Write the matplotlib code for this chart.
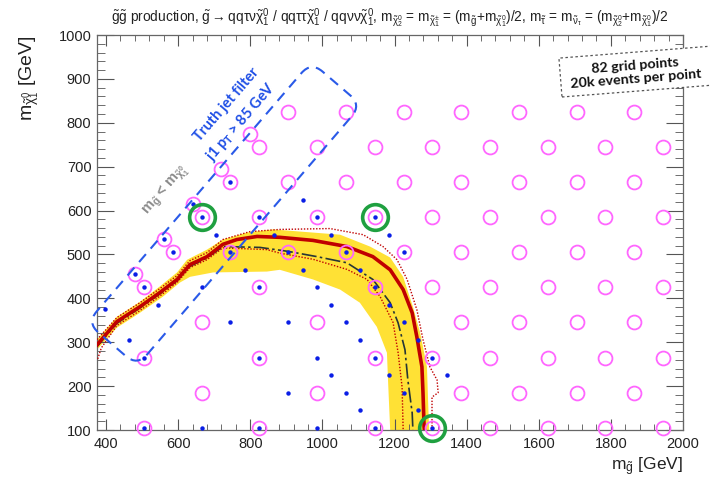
import numpy as np
import matplotlib
matplotlib.use("Agg")
import matplotlib.pyplot as plt
from matplotlib.patches import FancyBboxPatch, Rectangle
from matplotlib.transforms import Affine2D, IdentityTransform
from matplotlib.ticker import MultipleLocator

plt.rcParams['font.family'] = ['Liberation Sans', 'DejaVu Sans']
plt.rcParams['mathtext.fontset'] = 'custom'
plt.rcParams['mathtext.rm'] = 'Liberation Sans'
plt.rcParams['mathtext.it'] = 'Liberation Sans:italic'
plt.rcParams['mathtext.bf'] = 'Liberation Sans:bold'
plt.rcParams['mathtext.default'] = 'regular'

# ---------------- data ----------------
# magenta grid points (m_gluino, m_LSP)
grid_x = [905, 1065, 1225, 1385, 1545, 1705, 1865,
          825, 985, 1145, 1305, 1465, 1625, 1785, 1945,
          745, 905, 1065, 1225, 1385, 1545, 1705, 1865,
          665, 825, 985, 1145, 1305, 1465, 1625, 1785, 1945,
          585, 745, 905, 1065, 1225, 1385, 1545, 1705, 1865,
          505, 825, 1145, 1305, 1465, 1625, 1785, 1945,
          665, 985, 1385, 1545, 1705, 1865,
          505, 825, 1145, 1305, 1465, 1625, 1785, 1945,
          665, 985, 1385, 1545, 1705, 1865,
          505, 825, 1145, 1305, 1465, 1625, 1785, 1945,
          480, 560, 640, 720, 800]
grid_y = [825] * 7 + [745] * 8 + [665] * 8 + [585] * 9 + [505] * 9 + [425] * 8 + \
         [345] * 6 + [265] * 8 + [185] * 6 + [105] * 8 + [455, 535, 615, 695, 775]

# blue dots (points with generated samples)
dot_x = [745, 945,
         665, 825, 985, 1145,
         705, 865, 1025, 1185,
         585, 745, 905, 1065, 1225,
         785, 945, 1105,
         480, 560, 640,
         505, 665, 825, 985, 1145,
         545, 1025, 1185, 397,
         745, 905, 1065, 1225,
         465, 1105, 1265,
         505, 825, 985, 1145, 1305,
         1025, 1185, 1345,
         905, 1065, 1225,
         1105, 1265,
         505, 665, 825, 985, 1145, 1305]
dot_y = [665, 625,
         585, 585, 585, 585,
         545, 545, 545, 545,
         505, 505, 505, 505, 505,
         465, 465, 465,
         455, 535, 615,
         425, 425, 425, 425, 425,
         385, 385, 385, 376,
         345, 345, 345, 345,
         305, 305, 305,
         265, 265, 265, 265, 265,
         225, 225, 225,
         185, 185, 185,
         145, 145,
         105, 105, 105, 105, 105, 105]

# highlighted points
green_x = [665, 1145, 1305]
green_y = [585, 585, 105]

# observed limit
obs_x = [375, 430, 494, 549, 597, 633, 680, 724, 763, 819, 882, 974, 1068, 1140,
         1188, 1224, 1249, 1262, 1276, 1279, 1282, 1283]
obs_y = [294, 347, 381, 413, 443, 477, 495, 523, 534, 541, 539, 532, 518, 495,
         465, 420, 367, 312, 244, 185, 107, 100]

# observed +-1 sigma theory
obs_up_x = [375, 430, 494, 549, 597, 633, 680, 724, 799, 882, 1021, 1113, 1168,
            1207, 1235, 1262, 1279, 1298, 1318, 1321, 1304, 1304]
obs_up_y = [306, 356, 390, 422, 452, 486, 504, 534, 552, 557, 559, 545, 518,
            488, 443, 374, 306, 244, 214, 185, 175, 100]
obs_dn_x = [377, 387, 430, 494, 549, 597, 633, 680, 724, 846, 882, 974, 1068,
            1124, 1160, 1196, 1210, 1221, 1224]
obs_dn_y = [262, 287, 338, 372, 405, 436, 470, 488, 515, 511, 503, 489, 466,
            443, 404, 345, 276, 198, 100]

# expected limit
exp_x = [375, 430, 494, 549, 597, 633, 680, 724, 827, 905, 985, 1068, 1140,
         1188, 1210, 1229, 1237, 1249, 1251]
exp_y = [290, 343, 378, 410, 440, 473, 492, 518, 516, 507, 495, 481, 443,
         390, 344, 283, 214, 139, 100]

# expected +-1 sigma band
band_up_x = [375, 430, 494, 549, 597, 625, 680, 724, 791, 863, 1049, 1132, 1188,
             1224, 1251, 1271, 1290, 1293, 1296]
band_up_y = [306, 358, 392, 427, 459, 488, 511, 534, 550, 557, 545, 518, 493,
             449, 381, 322, 244, 169, 100]
band_dn_x = [375, 430, 494, 558, 605, 633, 697, 846, 882, 974, 1049, 1104, 1151,
             1179, 1182, 1188]
band_dn_y = [283, 333, 367, 404, 436, 449, 459, 461, 465, 443, 420, 390, 335,
             276, 214, 100]

# truth-jet-filter region (corners, GeV)
filt_x = [350, 971, 1104, 486]
filt_y = [347, 941, 840, 242]

x_ticks = [400, 600, 800, 1000, 1200, 1400, 1600, 1800, 2000]
y_ticks = [100, 200, 300, 400, 500, 600, 700, 800, 900, 1000]

# ---------------- figure ----------------
fig = plt.figure(figsize=(7.10, 4.79), dpi=100)
ax = fig.add_axes([97 / 710, 49 / 479, 586 / 710, 395 / 479])
ax.set_xlim(375, 2000)
ax.set_ylim(100, 1000)

# band
poly_x = band_up_x + band_dn_x[::-1]
poly_y = band_up_y + band_dn_y[::-1]
ax.fill(poly_x, poly_y, color='#ffe135', lw=0, zorder=1)

ax.plot(exp_x, exp_y, color='#263636', lw=1.2, ls=(0, (9, 2, 1.5, 2)), zorder=3)
ax.plot(obs_x, obs_y, color='#c00000', lw=2.6, zorder=4)
ax.plot(obs_up_x, obs_up_y, color='#c00000', lw=1.0, ls=(0, (1, 1.2)), zorder=4)
ax.plot(obs_dn_x, obs_dn_y, color='#c00000', lw=1.0, ls=(0, (1, 1.2)), zorder=4)

ax.plot(grid_x, grid_y, ls='none', marker='o', ms=10, mfc='none', mec='#ff66ff',
        mew=1.3, zorder=5, clip_on=False)
ax.plot(dot_x, dot_y, ls='none', marker='o', ms=3.2, mfc='#0a1ee6', mec='#0a1ee6',
        mew=0, zorder=6)
ax.plot(green_x, green_y, ls='none', marker='o', ms=18.5, mfc='none', mec='#1fa040',
        mew=2.6, zorder=7, clip_on=False)

# axes styling
ax.xaxis.set_minor_locator(MultipleLocator(40))
ax.yaxis.set_minor_locator(MultipleLocator(20))
ax.set_xticks(x_ticks)
ax.set_yticks(y_ticks)
ax.tick_params(axis='both', which='both', direction='in', top=True, right=True,
               colors='#555555', labelcolor='#222222', labelsize=10.5)
ax.tick_params(axis='x', which='major', length=8, pad=5)
ax.tick_params(axis='x', which='minor', length=4)
ax.tick_params(axis='y', which='major', length=12, pad=4)
ax.tick_params(axis='y', which='minor', length=6)
for s in ax.spines.values():
    s.set_color('#666666')
    s.set_linewidth(0.9)

ax.set_xlabel(r'm$_{\tilde{g}}$ [GeV]', fontsize=12.5, color='#222222')
ax.xaxis.set_label_coords(1.0, -0.065)
ax.xaxis.label.set_horizontalalignment('right')
ax.set_ylabel(r'm$_{\tilde{\chi}^{0}_{1}}$ [GeV]', fontsize=14, color='#222222')
ax.yaxis.set_label_coords(-0.095, 1.0)
ax.yaxis.label.set_horizontalalignment('right')

title = (r'$\tilde{g}\tilde{g}$ production, $\tilde{g}\rightarrow qq\tau\nu\tilde{\chi}^{0}_{1}$'
         r' / $qq\tau\tau\tilde{\chi}^{0}_{1}$ / $qq\nu\nu\tilde{\chi}^{0}_{1}$, '
         r'm$_{\tilde{\chi}^{0}_{2}}$ = m$_{\tilde{\chi}^{\pm}_{1}}$ = (m$_{\tilde{g}}$+m$_{\tilde{\chi}^{0}_{1}}$)/2, '
         r'm$_{\tilde{\tau}}$ = m$_{\tilde{\nu}_{\tau}}$ = (m$_{\tilde{\chi}^{0}_{2}}$+m$_{\tilde{\chi}^{0}_{1}}$)/2')
fig.text(0.549, 0.962, title, fontsize=9.9, ha='center', va='center', color='#222222')

# filter region: rounded, rotated rectangle
fig.canvas.draw()
pts = ax.transData.transform(np.column_stack([filt_x, filt_y]))
A, B, C, D = pts
cx, cy = pts.mean(axis=0)
L = (np.linalg.norm(B - A) + np.linalg.norm(C - D)) / 2
W = (np.linalg.norm(D - A) + np.linalg.norm(C - B)) / 2
ang = np.degrees(np.arctan2((B - A)[1], (B - A)[0]))
rad = 15
box = FancyBboxPatch((-L / 2 + rad, -W / 2 + rad), L - 2 * rad, W - 2 * rad,
                     boxstyle=f'round,pad={rad},rounding_size={rad}',
                     fc='none', ec='#2a5ae8', lw=1.5, ls=(0, (5, 3.5)),
                     transform=Affine2D().rotate_deg(ang).translate(cx, cy),
                     zorder=8, clip_on=False)
ax.add_patch(box)

ax.text(733, 842, 'Truth jet filter', rotation=ang, color='#1f4fe6', fontsize=10.5,
        fontweight='bold', family='Lato', ha='center', va='center', zorder=9,
        rotation_mode='anchor')
ax.text(774, 803, r'j1 p$_\mathbf{T}$ > 85 GeV', rotation=ang, color='#1f4fe6',
        fontsize=10.5, fontweight='bold', family='Lato', ha='center', va='center',
        zorder=9, rotation_mode='anchor')
ax.text(566, 644, r'm$_{\tilde{g}}$ < m$_{\tilde{\chi}^{0}_{1}}$', rotation=ang,
        color='#8c8c8c', fontsize=10.5, fontweight='bold', ha='center', va='center',
        zorder=9, rotation_mode='anchor')

# info box (dashed frame running off the right edge of the figure)
info_frame = Rectangle((562, 479 - 97), 190, 39, angle=4.5, fc='white',
                       ec='#555555', lw=0.9, ls=(0, (2, 2)),
                       transform=IdentityTransform(), zorder=10, clip_on=False)
ax.add_patch(info_frame)
ax.text(1868, 915, '82 grid points\n20k events per point', rotation=4.5, fontsize=10.3,
        fontweight='bold', family='Lato', ha='center', va='center', linespacing=1.1,
        color='#111111', zorder=11, clip_on=False)

fig.savefig('out.png', dpi=100)
